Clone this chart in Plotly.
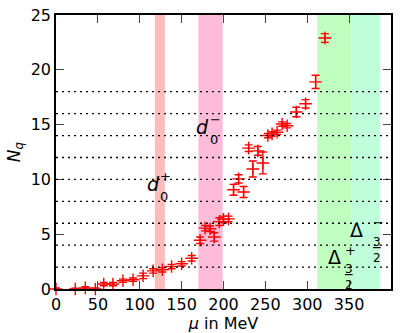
import plotly.graph_objects as go

# data
mu = [0, 23, 35, 47, 57, 68, 80, 92, 104, 116, 127, 138, 150, 162, 172, 178, 184, 189,
      195, 200, 206, 212, 218, 224, 230, 235, 241, 247, 253, 258, 264, 270, 276, 287,
      298, 310, 321]
Nq = [0.0, 0.0, 0.1, 0.0, 0.45, 0.45, 0.75, 0.85, 1.2, 1.65, 1.75, 2.05, 2.3, 2.8,
      4.45, 5.55, 5.5, 4.75, 6.15, 6.35, 6.4, 9.05, 10.05, 8.85, 12.85, 10.95, 12.6,
      11.5, 14.0, 14.15, 14.3, 15.05, 14.9, 16.15, 16.9, 18.9, 22.9]
err = [0.1, 0.08, 0.1, 0.1, 0.15, 0.15, 0.15, 0.15, 0.25, 0.2, 0.2, 0.2, 0.2, 0.25,
       0.3, 0.25, 0.25, 0.38, 0.35, 0.3, 0.25, 0.5, 0.38, 0.5, 0.3, 0.73, 0.4,
       1.0, 0.2, 0.2, 0.2, 0.2, 0.2, 0.43, 0.38, 0.6, 0.4]

hlines = [2, 4, 6, 8, 10, 12, 14, 16, 18]
bands = [(118, 130, "#ffbcbc"), (170, 199, "#ffbcd8"), (312, 353, "#bfffbf"), (353, 387, "#bfffdc")]

xticks = [0, 50, 100, 150, 200, 250, 300, 350, 400]
yticks = [0, 5, 10, 15, 20, 25]

FONT = "DejaVu Sans"

fig = go.Figure()
fig.add_trace(go.Scatter(
    x=mu, y=Nq, mode="markers",
    marker=dict(symbol="cross-thin", size=9, color="red", line=dict(width=1.4, color="red")),
    error_y=dict(type="data", array=err, color="red", thickness=1.4, width=4),
    showlegend=False, cliponaxis=False,
))

shapes = []
for x0, x1, c in bands:
    shapes.append(dict(type="rect", xref="x", yref="paper", x0=x0, x1=x1, y0=0, y1=1,
                       fillcolor=c, line=dict(width=0), layer="below"))
for h in hlines:
    shapes.append(dict(type="line", xref="paper", yref="y", x0=0, x1=1, y0=h, y1=h,
                       line=dict(color="black", width=1.3, dash="2px,4px"), layer="above"))

ann = []
def a(x, y, t, size, xa="center", ya="middle"):
    ann.append(dict(x=x, y=y, xref="x", yref="y", text=t, showarrow=False,
                    font=dict(family=FONT, size=size, color="black"),
                    xanchor=xa, yanchor=ya, borderpad=0))

# d0+
a(125, 9.6, "<i>d</i>", 19, xa="right")
a(123.5, 9.2, "0", 13, xa="left", ya="top")
a(123.5, 9.5, "+", 13, xa="left", ya="bottom")
# d0-
a(184, 14.75, "<i>d</i>", 19, xa="right")
a(182.5, 14.4, "0", 13, xa="left", ya="top")
a(182.5, 14.7, "−", 13, xa="left", ya="bottom")
# Delta 3/2 +
a(342, 2.9, "Δ", 19, xa="right")
a(343.5, 2.75, "+", 13, xa="left", ya="bottom")
a(344, 2.55, "<u>3</u><br>2", 12, xa="left", ya="top")
# Delta 3/2 -
a(368, 5.35, "Δ", 19, xa="right")
a(377, 5.25, "−", 13, xa="left", ya="bottom")
a(377, 5.05, "<u>3</u><br>2", 12, xa="left", ya="top")

fig.update_layout(
    width=406, height=333,
    margin=dict(l=56, r=15, t=15, b=44),
    plot_bgcolor="white", paper_bgcolor="white",
    font=dict(family=FONT, size=16, color="black"),
    shapes=shapes, annotations=ann,
    xaxis=dict(range=[0, 400], tickvals=xticks, ticks="inside", ticklen=8, tickwidth=1.3,
               showline=True, linecolor="black", linewidth=1.5, mirror="ticks",
               showgrid=False, zeroline=False, automargin=False,
               title=dict(text="<i>μ</i> in MeV", font=dict(size=16), standoff=2)),
    yaxis=dict(range=[0, 25], tickvals=yticks, ticks="inside", ticklen=8, tickwidth=1.3,
               showline=True, linecolor="black", linewidth=1.5, mirror="ticks",
               showgrid=False, zeroline=False, automargin=False,
               title=dict(text="<i>N<sub>q</sub></i>", font=dict(size=17), standoff=6)),
)

fig.write_html("out.html")
